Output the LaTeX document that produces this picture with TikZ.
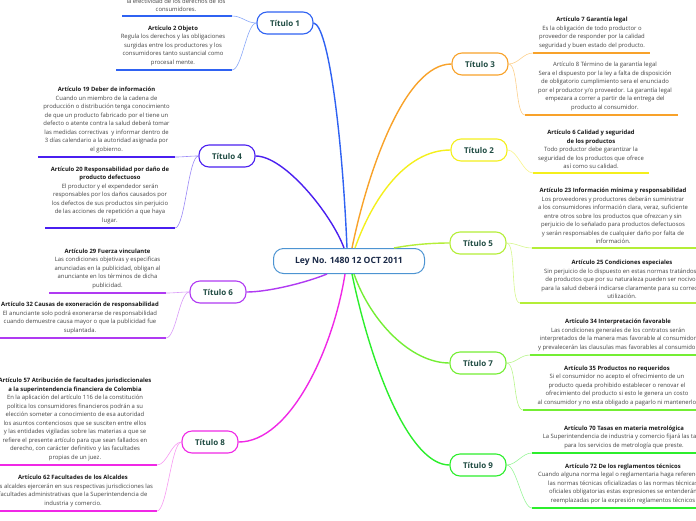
\documentclass[tikz,border=0pt]{standalone}
\usepackage{fontspec}
\setmainfont{Open Sans}
\definecolor{cA}{HTML}{2F62F2}\definecolor{lA}{HTML}{8AA8F8}
\definecolor{cD}{HTML}{4A1FF0}\definecolor{lD}{HTML}{9A88F6}
\definecolor{cF}{HTML}{B03AF2}\definecolor{lF}{HTML}{D99AF8}
\definecolor{cH}{HTML}{F028E6}\definecolor{lH}{HTML}{F79AF2}
\definecolor{cC}{HTML}{F8A22A}\definecolor{lC}{HTML}{FCD08C}
\definecolor{cB}{HTML}{F4EF1C}\definecolor{lB}{HTML}{F8F48A}
\definecolor{cE}{HTML}{B4EE38}\definecolor{lE}{HTML}{D6F78E}
\definecolor{cG}{HTML}{74EE34}\definecolor{lG}{HTML}{B8F58C}
\definecolor{cI}{HTML}{2CEE2C}\definecolor{lI}{HTML}{9AF59A}
\definecolor{centralcol}{HTML}{4D94D2}
\definecolor{centraltext}{HTML}{1B2A48}
\definecolor{tealtext}{HTML}{1F4B42}
\definecolor{bodytext}{HTML}{444444}
\definecolor{headtext}{HTML}{1A1A1A}
\newcommand{\arttitle}[1]{{\bfseries\color{headtext}#1}}
\tikzset{
  titulo/.style={draw=#1, line width=1.1pt, rounded corners=10pt, fill=white,
    minimum width=56pt, minimum height=22pt, inner sep=0pt,
    font=\fontsize{8}{10}\selectfont\bfseries, text=tealtext},
  artnode/.style={align=center, inner sep=0pt, anchor=south,
    font=\fontsize{5.9}{8.5}\selectfont, text=bodytext},
  uline/.style={draw=#1, line width=1.5pt},
  branch/.style={draw=#1, line width=1.4pt},
  twig/.style={draw=#1, line width=0.6pt},
}
\begin{document}
\begin{tikzpicture}[x=1pt,y=-1pt]
\useasboundingbox (0,0) rectangle (696,520);

% central node
\node[draw=centralcol, line width=1pt, rounded corners=10pt, fill=white,
  minimum width=151pt, minimum height=25pt, inner sep=0pt,
  font=\fontsize{8.6}{10}\selectfont\bfseries, text=centraltext] (c) at (349,261) {Ley No. 1480 12 OCT 2011};

% titles
\node[titulo=cA] (t1) at (285,23) {Título 1};
\node[titulo=cD] (t4) at (227,156) {Título 4};
\node[titulo=cF] (t6) at (218,292) {Título 6};
\node[titulo=cH] (t8) at (210,442) {Título 8};
\node[titulo=cC] (t3) at (480,64) {Título 3};
\node[titulo=cB] (t2) at (479,150) {Título 2};
\node[titulo=cE] (t5) at (478,243) {Título 5};
\node[titulo=cG] (t7) at (478,363) {Título 7};
\node[titulo=cI] (t9) at (478,465) {Título 9};

% main branches
\draw[branch=cA] ([xshift=-2pt]c.north) .. controls (342,130) and (328,25) .. (t1.east);
\draw[branch=cD] ([xshift=-5pt]c.north) .. controls (332,215) and (285,156) .. (t4.east);
\draw[branch=cC] ([xshift=3pt]c.north) .. controls (368,170) and (405,64) .. (t3.west);
\draw[branch=cB] ([xshift=6pt]c.north) .. controls (372,200) and (405,150) .. (t2.west);
\draw[branch=cE] ([xshift=-31pt]c.north east) .. controls (415,244) and (435,243) .. (t5.west);
\draw[branch=cF] ([xshift=-22pt]c.south) .. controls (305,283) and (268,292) .. (t6.east);
\draw[branch=cH] ([xshift=-4pt]c.south) .. controls (333,350) and (290,442) .. (t8.east);
\draw[branch=cG] ([xshift=5pt]c.south) .. controls (370,320) and (410,363) .. (t7.west);
\draw[branch=cI] ([xshift=3pt]c.south) .. controls (372,370) and (410,465) .. (t9.west);

% underline coordinates
\coordinate (u1l) at (122,16);  \coordinate (u1r) at (232,16);
\coordinate (u2l) at (116,70);  \coordinate (u2r) at (232,70);
\coordinate (u19l) at (38,157); \coordinate (u19r) at (175,157);
\coordinate (u20l) at (45,228); \coordinate (u20r) at (175,228);
\coordinate (u29l) at (49,293); \coordinate (u29r) at (166,293);
\coordinate (u32l) at (-2,338); \coordinate (u32r) at (166,338);
\coordinate (u57l) at (-2,465); \coordinate (u57r) at (157,465);
\coordinate (u62l) at (-2,511); \coordinate (u62r) at (157,511);
\coordinate (u7l) at (533,53);  \coordinate (u7r) at (650,53);
\coordinate (u8l) at (525,115); \coordinate (u8r) at (678,115);
\coordinate (u6l) at (533,173); \coordinate (u6r) at (649,173);
\coordinate (u23l) at (532,248); \coordinate (u23r) at (700,248);
\coordinate (u25l) at (520,303); \coordinate (u25r) at (700,303);
\coordinate (u34l) at (530,355); \coordinate (u34r) at (700,355);
\coordinate (u35l) at (523,410); \coordinate (u35r) at (700,410);
\coordinate (u70l) at (532,453); \coordinate (u70r) at (700,453);
\coordinate (u72l) at (532,508); \coordinate (u72r) at (700,508);

% underlines
\draw[uline=cA] (u1l) -- (u1r);   \draw[uline=cA] (u2l) -- (u2r);
\draw[uline=cD] (u19l) -- (u19r); \draw[uline=cD] (u20l) -- (u20r);
\draw[uline=cF] (u29l) -- (u29r); \draw[uline=cF] (u32l) -- (u32r);
\draw[uline=cH] (u57l) -- (u57r); \draw[uline=cH] (u62l) -- (u62r);
\draw[uline=cC] (u7l) -- (u7r);   \draw[uline=cC] (u8l) -- (u8r);
\draw[uline=cB] (u6l) -- (u6r);
\draw[uline=cE] (u23l) -- (u23r); \draw[uline=cE] (u25l) -- (u25r);
\draw[uline=cG] (u34l) -- (u34r); \draw[uline=cG] (u35l) -- (u35r);
\draw[uline=cI] (u70l) -- (u70r); \draw[uline=cI] (u72l) -- (u72r);

% twigs
\draw[twig=lA] (t1.west) .. controls +(-10,0) and +(10,0) .. (u1r);
\draw[twig=lA] (t1.west) .. controls +(-10,0) and +(10,0) .. (u2r);
\draw[twig=lD] (t4.west) .. controls +(-10,0) and +(10,0) .. (u19r);
\draw[twig=lD] (t4.west) .. controls +(-10,0) and +(10,0) .. (u20r);
\draw[twig=lF] (t6.west) .. controls +(-10,0) and +(10,0) .. (u29r);
\draw[twig=lF] (t6.west) .. controls +(-10,0) and +(10,0) .. (u32r);
\draw[twig=lH] (t8.west) .. controls +(-10,0) and +(10,0) .. (u57r);
\draw[twig=lH] (t8.west) .. controls +(-10,0) and +(10,0) .. (u62r);
\draw[twig=lC] (t3.east) .. controls +(10,0) and +(-10,0) .. (u7l);
\draw[twig=lC] (t3.east) .. controls +(10,0) and +(-10,0) .. (u8l);
\draw[twig=lB] (t2.east) .. controls +(10,0) and +(-10,0) .. (u6l);
\draw[twig=lE] (t5.east) .. controls +(10,0) and +(-10,0) .. (u23l);
\draw[twig=lE] (t5.east) .. controls +(10,0) and +(-10,0) .. (u25l);
\draw[twig=lG] (t7.east) .. controls +(10,0) and +(-10,0) .. (u34l);
\draw[twig=lG] (t7.east) .. controls +(10,0) and +(-10,0) .. (u35l);
\draw[twig=lI] (t9.east) .. controls +(10,0) and +(-10,0) .. (u70l);
\draw[twig=lI] (t9.east) .. controls +(10,0) and +(-10,0) .. (u72l);

% article texts
\node[artnode] (a1) at (176,12) {la efectividad de los derechos de los\\consumidores.};
\node[artnode] (a2) at (173,66) {\arttitle{Artículo 2 Objeto}\\Regula los derechos y las obligaciones\\surgidas entre los productores y los\\consumidores tanto sustancial como\\procesal mente.};
\node[artnode] (a19) at (106.5,153) {\arttitle{Artículo 19 Deber de información}\\Cuando un miembro de la cadena de\\producción o distribución tenga conocimiento\\de que un producto fabricado por el tiene un\\defecto o atente contra la salud deberá tomar\\las medidas correctivas\ \ y informar dentro de\\3 días calendario a la autoridad asignada por\\el gobierno.};
\node[artnode] (a20) at (110,224) {\arttitle{Artículo 20 Responsabilidad por daño de}\\\arttitle{producto defectuoso}\\El productor y el expendedor serán\\responsables por los daños causados por\\los defectos de sus productos sin perjuicio\\de las acciones de repetición a que haya\\lugar.};
\node[artnode] (a29) at (107.5,289) {\arttitle{Artículo 29 Fuerza vinculante}\\Las condiciones objetivas y especificas\\anunciadas en la publicidad, obligan al\\anunciante en los términos de dicha\\publicidad.};
\node[artnode] (a32) at (80,334) {\arttitle{Artículo 32 Causas de exoneración de responsabilidad}\\El anunciante solo podrá exonerarse de responsabilidad\\cuando demuestre causa mayor o que la publicidad fue\\suplantada.};
\node[artnode] (a57) at (75,461) {\arttitle{Artículo 57 Atribución de facultades jurisdiccionales}\\\arttitle{a la superintendencia financiera de Colombia}\\En la aplicación del artículo 116 de la constitución\\política los consumidores financieros podrán a su\\elección someter a conocimiento de esa autoridad\\los asuntos contenciosos que se susciten entre ellos\\y las entidades vigiladas sobre las materias a que se\\refiere el presente artículo para que sean fallados en\\derecho, con carácter definitivo y las facultades\\propias de un juez.};
\node[artnode] (a62) at (73,507) {\arttitle{Artículo 62 Facultades de los Alcaldes}\\Los alcaldes ejercerán en sus respectivas jurisdicciones las\\facultades administrativas que la Superintendencia de\\industria y comercio.};
\node[artnode] (a7) at (592,49) {\arttitle{Artículo 7 Garantía legal}\\Es la obligación de todo productor o\\proveedor de responder por la calidad\\seguridad y buen estado del producto.};
\node[artnode] (a8) at (605,111) {Artículo 8 Término de la garantía legal\\Sera el dispuesto por la ley a falta de disposición\\de obligatorio cumplimiento sera el enunciado\\por el productor y/o proveedor. La garantía legal\\empezara a correr a partir de la entrega del\\producto al consumidor.};
\node[artnode] (a6) at (591,169) {\arttitle{Artículo 6 Calidad y seguridad}\\\arttitle{de los productos}\\Todo productor debe garantizar la\\seguridad de los productos que ofrece\\así como su calidad.};
\node[artnode] (a23) at (613,244) {\arttitle{Artículo 23 Información mínima y responsabilidad}\\Los proveedores y productores deberán suministrar\\a los consumidores información clara, veraz, suficiente\\entre otros sobre los productos que ofrezcan y sin\\perjuicio de lo señalado para productos defectuosos\\y serán responsables de cualquier daño por falta de\\información.};
\node[artnode] (a25) at (622,299) {\arttitle{Artículo 25 Condiciones especiales}\\Sin perjuicio de lo dispuesto en estas normas tratándose\\de productos que por su naturaleza pueden ser nocivos\\para la salud deberá indicarse claramente para su correcta\\utilización.};
\node[artnode] (a34) at (618,351) {\arttitle{Artículo 34 Interpretación favorable}\\Las condiciones generales de los contratos serán\\interpretados de la manera mas favorable al consumidor\\y prevalecerán las clausulas mas favorables al consumidor};
\node[artnode] (a35) at (617,406) {\arttitle{Artículo 35 Productos no requeridos}\\Si el consumidor no acepto el ofrecimiento de un\\producto queda prohibido establecer o renovar el\\ofrecimiento del producto si esto le genera un costo\\al consumidor y no esta obligado a pagarlo ni mantenerlo};
\node[artnode] (a70) at (624,449) {\arttitle{Artículo 70 Tasas en materia metrológica}\\La Superintendencia de industria y comercio fijará las tasas\\para los servicios de metrología que preste.};
\node[artnode] (a72) at (623,504) {\arttitle{Artículo 72 De los reglamentos técnicos}\\Cuando alguna norma legal o reglamentaria haga referencia a\\las normas técnicas oficializadas o las normas técnicas\\oficiales obligatorias estas expresiones se entenderán\\reemplazadas por la expresión reglamentos técnicos};
\end{tikzpicture}
\end{document}
